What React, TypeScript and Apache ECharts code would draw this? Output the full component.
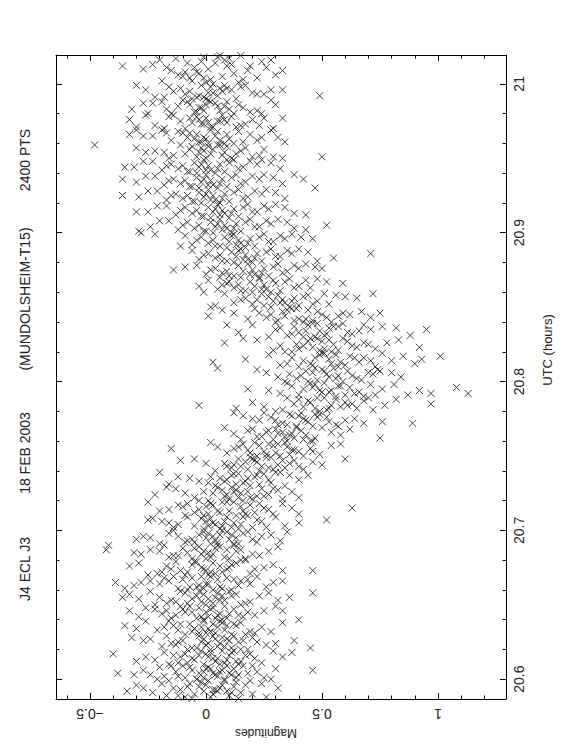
import React, { useEffect, useRef } from 'react';
import * as echarts from 'echarts';

// Axis ranges (magnitude horizontal, UTC hours vertical)
const MAG_MIN = -0.6466;
const MAG_MAX = 1.2931;
const UTC_MIN = 20.5867;
const UTC_MAX = 21.0194;

const MAG_MAJOR = [-0.5, 0, 0.5, 1];
const MAG_MINOR = [-0.6, -0.4, -0.3, -0.2, -0.1, 0.1, 0.2, 0.3, 0.4, 0.6, 0.7, 0.8, 0.9, 1.1, 1.2];
const UTC_MAJOR = [20.6, 20.7, 20.8, 20.9, 21.0];
const UTC_MINOR = [20.62, 20.64, 20.66, 20.68, 20.72, 20.74, 20.76, 20.78, 20.82, 20.84, 20.86, 20.88, 20.92, 20.94, 20.96, 20.98];

const TITLES = ['J4 ECL J3', '18 FEB 2003', '(MUNDOLSHEIM-T15)', '2400 PTS'];
const X_NAME = 'Magnitudes';
const Y_NAME = 'UTC (hours)';

// Observations: pairs of [magnitude x100, (UTC - 20 h) x1000]
const PRE_ECLIPSE = [
  5,592, -9,588, 12,595, -2,598, 3,590, -14,594, 8,599, -6,587, 15,591, 0,596, -11,593, 10,589, -4,600, 6,594, -19,597, 20,590, -1,592, 13,598, -8,595, 2,588, -23,591, 17,596, -16,599, 4,593, -5,590, 24,597, 9,592, -12,589, 1,599, -27,594, 7,596, -3,595, 26,588, -34,592, -21,600, 14,587, -7,597, 3,593, 11,591, -30,596, 19,599, -17,589, 31,594,
  46,606, -38,604, 4,603, -7,608, 13,601, -1,605, 9,609, -12,602, 2,607, 18,604, -4,600, 7,606, -15,609, 11,603, -9,601, 0,607, 22,605, -20,608, 5,602, -3,604, 16,609, -24,603, 8,600, -6,606, 25,601, 1,608, -13,605, 12,607, -18,602, 20,609, 3,604, -1,601, 14,603, -27,606, 6,605, 28,600, -10,609, 30,607, -31,603, 10,604,
  -40,617, 37,618, 3,614, -8,611, 10,616, -2,619, 15,612, -11,615, 6,610, 0,617, -5,613, 12,619, -14,616, 8,611, 21,614, -18,618, 4,612, -1,610, 17,616, -22,613, 7,619, 1,615, -9,617, 24,611, -6,614, 13,612, 2,618, -16,610, 19,617, -26,615, 9,613, -3,616, 29,619, -12,611, 5,614, -30,612, 11,618, 33,615, 14,610,
  45,621, -32,628, 1,624, 9,627, -6,621, 14,625, -3,629, 5,622, -10,626, 18,620, 0,623, 7,628, -15,624, 11,621, -1,627, 22,625, -8,620, 3,629, -19,622, 16,626, 6,624, -24,627, 26,623, -4,621, 12,629, -12,625, 2,620, 20,628, -27,626, 8,622, 30,624, -17,629, 4,627, 38,626, -13,623, 15,620, -2,625, 10,626,
  -35,636, 2,632, -7,637, 11,630, -2,635, 6,639, -12,633, 15,638, 0,631, -5,634, 9,636, -16,639, 19,632, 3,637, -9,630, 24,635, -21,633, 7,638, -3,631, 13,636, -26,639, 1,634, 17,630, -11,637, 28,632, -1,639, 8,633, -18,635, 33,638, 4,631, -30,634, -6,632, 12,637, 21,631, 40,640, -14,636, 5,635,
  -33,646, 1,642, -9,645, 8,649, -4,641, 12,647, -13,643, 3,648, -1,640, 6,644, -17,646, 16,642, -7,649, 0,645, 21,643, -22,647, 4,641, -11,649, 10,644, -2,642, 25,646, -26,648, 7,640, -6,645, 14,643, -15,641, 2,647, 30,649, -19,644, 18,645, -3,648, 9,641, -29,642, 33,646, -10,647, 5,643,
  46,658, -36,655, -2,652, 7,656, -11,659, 3,651, -6,654, 13,657, 0,650, -15,653, 10,659, -4,656, 19,652, -20,655, 5,658, -8,651, 1,654, 23,656, -24,659, 15,650, -1,657, 8,653, -13,652, -29,654, 27,658, 4,655, -17,651, 11,656, -9,658, 31,653, -3,659, 17,651, -33,657, 6,653, -22,650, 36,655,
  -39,665, -4,662, 5,667, -12,661, 0,664, 9,668, -8,660, 14,663, -16,666, 2,669, -1,661, -20,664, 18,667, 6,662, -6,668, -24,666, 11,660, -3,663, 22,669, -28,665, 7,661, -10,667, 1,664, 26,662, -14,669, 15,666, -31,663, 3,660, -18,668, 29,665, -7,662, 12,667, -35,661, 19,664, -2,669, 33,666,
  46,673, -33,676, 2,672, -6,677, 9,674, -13,679, 4,671, -2,675, 13,678, -9,670, 0,673, 17,680, -17,676, 7,672, -4,679, 21,674, -21,671, 11,677, -11,673, 3,678, 25,675, -25,670, -1,674, 15,680, -8,672, 29,677, 6,676, -15,674, 19,671, -29,678, 33,673, -5,679, 10,675, -19,672, 1,670,
  -43,687, -42,690, 3,684, -5,688, 10,681, -1,686, 6,689, -12,683, 15,687, 0,681, -8,685, 12,690, -16,682, 4,688, 20,684, -20,686, 8,682, -3,689, 23,683, -24,687, 1,685, 17,681, -10,688, 27,686, -28,684, 5,690, -14,683, 13,686, -6,681, 31,689, -31,685, 9,687, -18,690, 2,682, -2,684,
  -30,694, 5,692, -3,697, 12,691, 0,695, 9,699, -8,693, 16,698, 2,691, -12,696, 20,694, 7,700, -5,692, -16,698, 24,696, 4,693, -1,699, 13,695, -20,691, 28,697, 10,694, -9,692, 18,699, -24,695, 1,698, 32,693, -14,700, 6,697, 22,692, -27,696, 14,691, 35,699, -6,694, 11,697, 3,696,
  52,707, 7,703, -2,708, 14,701, 3,705, -8,709, 11,702, 0,706, 18,710, -12,704, 6,701, 22,707, -5,703, 9,709, -16,705, 26,702, 2,708, -19,706, 15,704, 30,709, -1,701, 12,705, -23,708, 34,703, 8,706, -9,710, 20,702, -25,707, 4,704, 40,705, 16,709, -14,702, 24,706, 1,703,
  63,715, 10,713, 3,717, 17,711, -3,714, 7,719, 21,712, 0,716, -8,718, 13,710, 25,715, 5,713, -12,717, 29,711, 9,719, -5,712, 15,716, 33,718, -16,714, 1,711, 19,717, -20,713, 12,719, 37,715, -1,710, 23,718, -10,716, 6,712, 27,714, -25,719, 40,711, 16,713, 2,718,
];

const INGRESS = [
  -22,724, 14,722, 7,727, 20,721, 3,725, 11,729, 25,723, -1,726, 16,720, 9,724, 29,728, -5,722, 18,726, 5,729, 33,721, -9,725, 13,727, 22,723, 1,720, 37,726, -13,728, 27,724, 10,721, -17,729, 40,722, 15,725, 31,727, 8,723, -3,720, 24,728, 19,722, 12,726,
  -20,739, 17,733, 11,737, 23,731, 6,735, 14,738, 28,732, 2,736, 19,730, 9,734, 32,739, -3,733, 21,736, 13,731, 36,737, -7,735, 25,738, 16,732, 4,730, 40,734, -12,736, 30,739, 8,733, 44,737, 18,735, -16,731, 27,734, 12,738, 34,730, 22,737, 1,732,
  -11,747, 24,743, 17,746, 29,741, 12,744, 20,748, 34,742, 8,745, 26,749, 15,743, 38,747, 4,740, 22,746, 31,744, 14,748, 42,741, 0,745, 27,742, 19,749, 46,746, 9,743, 33,747, 23,740, -5,748, 50,744, 18,741, 36,745, 11,742, 28,749, 40,743, 21,747,
  -15,755, 30,752, 23,757, 36,751, 18,754, 27,758, 40,753, 14,756, 32,750, 21,759, 45,755, 9,752, 29,757, 37,754, 16,758, 49,751, 25,753, 5,756, 34,759, 42,750, 12,755, 54,757, 26,751, 38,754, 19,752, 31,758, 2,759, 46,753, 22,750, 35,756, 58,758, 60,748,
  75,762, 8,769, 36,764, 29,761, 41,767, 24,763, 33,766, 46,760, 20,768, 38,762, 31,765, 50,769, 15,761, 43,764, 27,767, 35,760, 54,766, 22,763, 39,769, 12,765, 47,762, 30,768, 58,764, 26,766, 42,761, 18,767, 34,763, 62,768, 37,765, 45,760,
  89,772, 76,773, 42,775, 35,771, 47,778, 30,774, 39,770, 52,776, 25,779, 44,773, 37,777, 56,771, 20,775, 49,778, 33,772, 41,779, 60,774, 28,776, 46,770, 16,777, 53,773, 36,778, 64,775, 31,771, 48,776, 23,774, 40,777, 68,772, 12,779, 57,770, 43,774,
  -3,784, 97,785, 13,782, 52,781, 45,786, 58,783, 40,788, 49,780, 63,785, 35,789, 54,784, 47,782, 68,787, 30,780, 60,786, 42,783, 51,789, 72,781, 38,785, 56,788, 25,783, 65,782, 44,787, 77,784, 48,789, 33,781, 61,784, 82,788, 20,786, 53,782, 70,789,
  113,792, 108,796, 97,792, 87,791, 54,794, 47,798, 60,791, 42,795, 51,799, 66,793, 37,797, 56,790, 49,794, 71,798, 32,792, 62,796, 45,799, 53,793, 76,795, 40,791, 58,797, 27,794, 68,790, 46,796, 81,798, 50,793, 35,799, 64,792, 18,795, 57,797, 92,794, 73,791,
];

const EGRESS = [
  80,806, 75,807, 5,809, 53,803, 46,806, 59,800, 41,804, 50,808, 65,802, 36,805, 55,809, 48,801, 70,806, 31,803, 61,807, 44,800, 52,805, 74,808, 39,802, 57,804, 26,806, 67,801, 47,809, 84,803, 51,807, 34,800, 63,804, 22,808, 56,802, 72,805, 43,807,
  101,817, 93,815, 85,817, 3,813, 54,812, 47,816, 60,811, 42,814, 51,819, 66,813, 37,816, 57,810, 49,818, 71,814, 32,811, 62,817, 45,812, 53,815, 76,819, 40,810, 58,813, 27,818, 68,816, 46,811, 80,814, 50,819, 35,812, 64,816, 17,815, 56,818, 73,810, 90,812,
  92,823, 8,826, 51,822, 44,827, 57,821, 39,825, 48,829, 63,824, 34,820, 53,828, 46,823, 68,826, 29,821, 59,829, 42,824, 50,827, 73,822, 37,820, 55,825, 22,828, 65,823, 45,829, 78,826, 49,821, 32,824, 61,827, 16,829, 54,820, 70,825, 83,828, 40,822,
  95,835, 82,836, 88,831, 9,838, 49,834, 42,830, 55,837, 37,832, 46,839, 61,833, 32,836, 51,831, 44,838, 66,834, 27,830, 57,837, 40,833, 48,839, 71,835, 35,831, 53,836, 20,838, 63,832, 43,834, 76,837, 47,830, 30,835, 59,839, 14,833, 52,832, 68,838, 38,837,
  1,844, 75,846, 40,842, 33,847, 46,841, 28,845, 37,849, 52,843, 23,846, 42,840, 35,848, 57,844, 18,842, 48,847, 31,841, 39,849, 62,845, 26,843, 44,848, 12,846, 54,840, 34,844, 67,847, 38,841, 21,849, 50,845, 7,848, 43,842, 59,846, 71,843, 30,840,
  72,859, 65,856, 34,853, 27,857, 40,851, 22,855, 31,858, 46,852, 17,856, 36,850, 29,854, 51,859, 12,853, 42,857, 25,851, 33,855, 56,858, 20,852, 38,856, 8,859, 48,854, 28,850, 60,857, 32,853, 15,855, 44,858, 4,851, 37,854, 53,852, 24,859, 2,850,
  59,866, -3,864, 26,862, 19,867, 32,861, 14,865, 23,869, 38,863, 9,866, 28,860, 21,864, 43,868, 5,862, 34,867, 17,861, 25,865, 48,869, 12,863, 30,866, 1,868, 40,864, 20,860, 52,867, 24,862, 7,865, 36,869, 15,861, 29,868, 45,863, 10,867, -1,860,
  -14,875, -9,877, 50,876, 21,872, 14,878, 27,871, 9,874, 18,879, 33,873, 4,876, 23,870, 16,874, 38,878, 0,872, 29,877, 12,871, 20,875, 43,879, 7,873, 25,876, -4,878, 35,874, 15,870, 47,877, 19,872, 2,875, 31,879, 10,871, 24,873, 40,876, 6,870,
  71,886, 55,883, 18,882, 11,887, 24,881, 6,885, 15,889, 30,884, 1,886, 20,880, 13,884, 35,888, -3,882, 26,887, 9,881, 17,885, 40,889, 4,883, 22,886, -6,888, 32,884, 12,880, 44,887, 16,882, -1,885, 28,889, 7,881, 21,883, 37,886, 14,888, 48,881,
  -11,891, -22,899, -28,900, 46,896, 15,893, 8,897, 21,891, 3,895, 12,899, 27,894, -2,897, 17,890, 10,894, 32,898, -6,892, 23,897, 6,891, 14,895, 37,899, 1,893, 19,896, -9,898, 29,894, 9,890, 41,897, 13,892, -4,895, 25,899, 4,891, 18,893, 34,896, 11,898,
];

const POST_ECLIPSE = [
  52,905, 43,902, -29,901, 9,903, 2,907, 15,901, -3,905, 6,909, 21,904, -8,907, 11,900, 4,904, 26,908, -12,902, 17,907, 0,901, 8,905, 31,909, -5,903, 13,906, -16,908, 23,904, 3,900, 35,907, 7,902, -10,905, 19,909, -1,901, 12,903, 28,906, -20,908, 5,906, -24,904, 38,903,
  43,912, -30,914, 8,913, 1,917, 14,911, -4,915, 5,919, 20,914, -9,917, 10,910, 3,914, 25,918, -13,912, 16,917, -1,911, 7,915, 30,919, -6,913, 12,916, -17,918, 22,914, 2,910, 34,917, 6,912, -11,915, 18,919, -2,911, 11,913, 27,916, -21,918, 4,916, -25,914, 38,913,
  47,930, -36,925, 4,922, -3,927, 10,921, -8,925, 1,929, 16,923, -13,926, 6,920, -1,924, 21,928, -17,922, 12,927, -5,921, 3,925, 26,929, -10,923, 8,926, -21,928, 18,924, -2,920, 30,927, 2,922, -15,925, 14,929, -6,921, 7,923, 24,926, -25,928, 0,926, -29,924, 34,923,
  -36,936, 38,939, 42,936, 3,932, -4,937, 9,931, -9,935, 0,939, 15,933, -14,936, 5,930, -2,934, 20,938, -18,932, 11,937, -6,931, 2,935, 25,939, -11,933, 7,936, -22,938, 17,934, -3,930, 29,937, 1,932, -16,935, 13,939, -7,931, 6,933, 23,936, -26,938, -1,936, -30,934, 33,933,
  -35,944, 2,942, -5,947, 8,941, -10,945, -1,949, 14,943, -15,946, 4,940, -3,944, 19,948, -19,942, 10,947, -7,941, 1,945, 24,949, -12,943, 6,946, -23,948, 16,944, -4,940, 28,947, 0,942, -17,945, 12,949, -8,941, 5,943, 22,946, -27,948, -2,946, -31,944, 32,943, 9,949, 50,951,
  -48,959, 3,956, -4,951, 9,958, -9,953, 0,950, 15,955, -14,952, 5,959, -2,957, 20,951, -18,954, 11,950, -6,958, 2,953, 25,956, -11,959, 7,952, -22,955, 17,957, -3,954, 29,951, 1,958, -16,950, 13,953, -7,956, 6,959, 23,952, -26,954, -1,955, -30,957, 33,950, 8,954,
  34,961, -33,966, 2,969, -5,963, 8,960, -10,967, -1,964, 14,968, -15,962, 4,965, -3,961, 19,966, -19,969, 10,963, -7,967, 1,960, 24,964, -12,968, 6,962, -23,965, 16,961, -4,966, 28,969, 0,963, -17,967, 12,960, -8,964, 5,968, 22,962, -27,965, -2,961, -30,969, 31,964, 9,966,
  -33,976, 3,971, -4,978, 9,974, -9,970, 0,977, 15,972, -14,979, 5,975, -2,973, 20,976, -18,970, 11,978, -6,974, 2,971, 25,977, -11,975, 7,979, -22,972, 17,973, -3,976, 29,970, 1,974, -16,978, 13,971, -7,977, 6,975, 23,972, -26,979, -1,973, -30,971, 33,977, 8,976,
  -32,983, 2,988, -5,981, 8,985, -10,989, -1,982, 14,986, -15,980, 4,987, -3,984, 19,981, -19,988, 10,983, -7,986, 1,989, 24,980, -12,985, 6,982, -23,987, 16,984, -4,981, 28,989, 0,986, -17,983, 12,980, -8,988, 5,985, 22,982, -27,987, -2,984, 30,986, 9,988, -25,980,
  49,992, 33,996, -30,999, 3,994, -4,991, 9,997, -9,993, 0,990, 15,998, -14,995, 5,992, -2,999, 20,994, -18,991, 11,996, -6,990, 2,998, 25,993, -11,997, 7,995, -22,991, 17,999, -3,992, 28,996, 1,994, -16,998, 13,990, -7,995, 6,997, 22,993, -26,996, -1,991, 8,999,
  -36,1012, 33,1009, 2,1003, -5,1011, 8,1016, -10,1005, -1,1018, 14,1001, -15,1009, 4,1014, -3,1007, 19,1012, -19,1002, 10,1017, -7,1004, 1,1010, 24,1015, -12,1006, 6,1019, -23,1013, 16,1003, -4,1008, 28,1016, 0,1001, -17,1011, 12,1007, -8,1014, 5,1018, 22,1004, -27,1010, -2,1015, 30,1006, 9,1012, -13,1017, 3,1000, 18,1009, -6,1002, 11,1013, -20,1016, 7,1005, 26,1011, -1,1004, 15,1019, -9,1008,
];

function toPoints(flat: number[]): number[][] {
  const out: number[][] = [];
  for (let i = 0; i + 1 < flat.length; i += 2) {
    out.push([flat[i] / 100, 20 + flat[i + 1] / 1000]);
  }
  return out;
}

const FONT = 'Liberation Sans';
const INK = '#222';

function magLabel(v: number) {
  if (Math.abs(v) < 1e-9) return '0';
  const s = String(Math.round(v * 10) / 10);
  return s.replace('-', '\u2212');
}
function utcLabel(v: number) {
  return String(Math.round(v * 10) / 10);
}

export default function App() {
  const ref = useRef<HTMLDivElement>(null);
  useEffect(() => {
    if (!ref.current) return;
    const chart = echarts.init(ref.current, null, { renderer: 'svg' });
    const data = [
      ...toPoints(PRE_ECLIPSE),
      ...toPoints(INGRESS),
      ...toPoints(EGRESS),
      ...toPoints(POST_ECLIPSE),
    ];
    const lineStyle = { color: '#000', width: 1 };
    const xCommon = {
      type: 'value',
      min: MAG_MIN,
      max: MAG_MAX,
      splitLine: { show: false },
      axisLine: { show: false, onZero: false, lineStyle },
      axisLabel: { show: false },
    };
    const yCommon = {
      type: 'value',
      min: UTC_MIN,
      max: UTC_MAX,
      splitLine: { show: false },
      axisLine: { show: false, onZero: false, lineStyle },
      axisLabel: { show: false },
    };
    const title = (text: string, y: number) => ({
      type: 'text',
      x: 25,
      y,
      rotation: Math.PI / 2,
      style: { text, fontSize: 14, fontFamily: FONT, fill: INK, align: 'center', verticalAlign: 'middle' },
    });
    chart.setOption({
      animation: false,
      backgroundColor: '#fff',
      grid: { left: 56, top: 55, width: 450, height: 644, show: false },
      xAxis: [
        {
          ...xCommon,
          position: 'bottom',
          axisLine: { show: true, onZero: false, lineStyle },
          axisTick: { show: true, inside: true, length: 6, customValues: MAG_MAJOR, lineStyle },
          axisLabel: {
            show: true,
            customValues: MAG_MAJOR,
            rotate: 180,
            margin: 8,
            fontSize: 14,
            fontFamily: FONT,
            color: INK,
            formatter: magLabel,
          },
        },
        {
          ...xCommon,
          position: 'bottom',
          axisTick: { show: true, inside: true, length: 3.5, customValues: MAG_MINOR, lineStyle },
        },
        {
          ...xCommon,
          position: 'top',
          axisLine: { show: true, onZero: false, lineStyle },
          axisTick: { show: true, inside: true, length: 6, customValues: MAG_MAJOR, lineStyle },
        },
        {
          ...xCommon,
          position: 'top',
          axisTick: { show: true, inside: true, length: 3.5, customValues: MAG_MINOR, lineStyle },
        },
      ],
      yAxis: [
        {
          ...yCommon,
          position: 'right',
          axisLine: { show: true, onZero: false, lineStyle },
          axisTick: { show: true, inside: true, length: 6, customValues: UTC_MAJOR, lineStyle },
          axisLabel: {
            show: true,
            customValues: UTC_MAJOR,
            rotate: 90,
            margin: 6,
            fontSize: 14,
            fontFamily: FONT,
            color: INK,
            formatter: utcLabel,
          },
        },
        {
          ...yCommon,
          position: 'right',
          axisTick: { show: true, inside: true, length: 3.5, customValues: UTC_MINOR, lineStyle },
        },
        {
          ...yCommon,
          position: 'left',
          axisLine: { show: true, onZero: false, lineStyle },
          axisTick: { show: true, inside: true, length: 6, customValues: UTC_MAJOR, lineStyle },
        },
        {
          ...yCommon,
          position: 'left',
          axisTick: { show: true, inside: true, length: 3.5, customValues: UTC_MINOR, lineStyle },
        },
      ],
      series: [
        {
          type: 'scatter',
          xAxisIndex: 0,
          yAxisIndex: 0,
          data,
          symbol: 'path://M0,0L10,10M10,0L0,10',
          symbolSize: 7,
          itemStyle: { color: 'none', borderColor: '#222', borderWidth: 0.85, opacity: 1 },
          emphasis: { disabled: true },
          silent: true,
        },
      ],
      graphic: [
        title(TITLES[0], 569),
        title(TITLES[1], 453),
        title(TITLES[2], 299),
        title(TITLES[3], 160),
        {
          type: 'text',
          x: 547,
          y: 350,
          rotation: Math.PI / 2,
          style: { text: Y_NAME, fontSize: 13, fontFamily: FONT, fill: INK, align: 'center', verticalAlign: 'middle' },
        },
        {
          type: 'text',
          x: 266,
          y: 733,
          rotation: Math.PI,
          style: { text: X_NAME, fontSize: 12, fontFamily: FONT, fill: INK, align: 'center', verticalAlign: 'middle' },
        },
      ],
    });
    return () => chart.dispose();
  }, []);
  return <div ref={ref} style={{ position: 'fixed', left: 0, top: 0, width: 562, height: 756 }} />;
}
